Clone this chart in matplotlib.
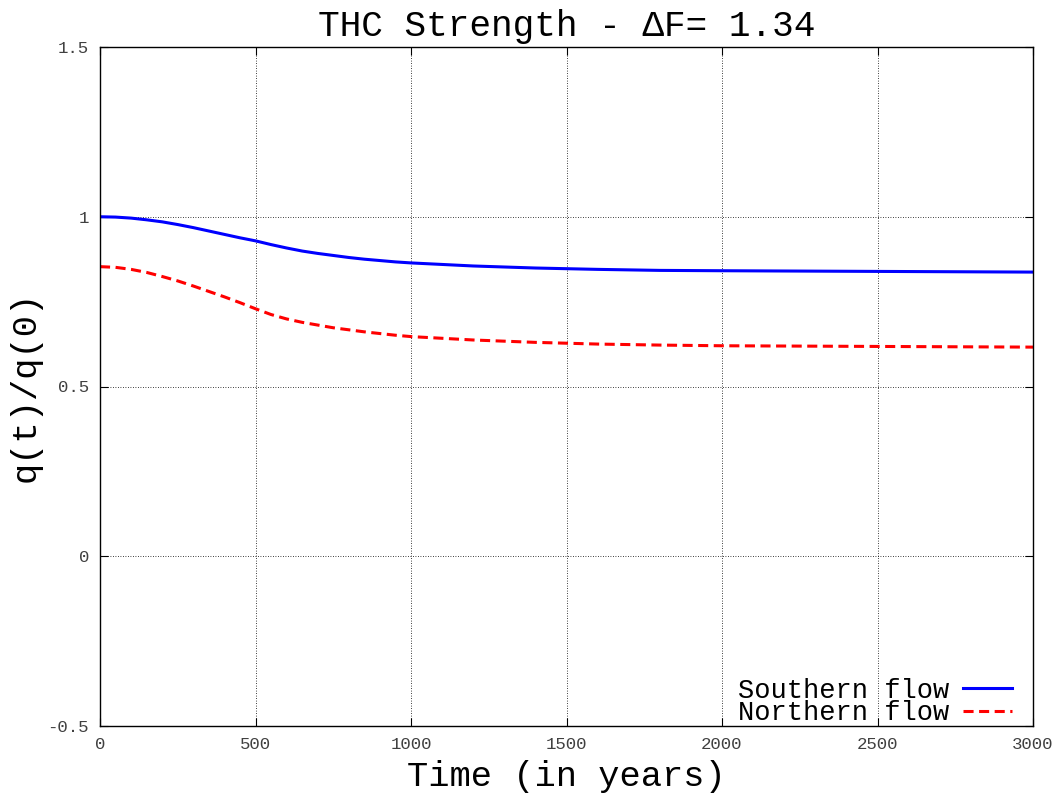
import numpy as np
import matplotlib
matplotlib.use("Agg")
import matplotlib.pyplot as plt

# time in years and normalised THC strength q(t)/q(0)
years = [0, 50, 100, 150, 200, 250, 300, 350, 400, 450, 500, 550, 600, 650, 700,
         750, 800, 850, 900, 950, 1000, 1200, 1400, 1600, 1800, 2000, 2250, 2500, 2750, 3000]
southern = [1.000, 0.999, 0.996, 0.991, 0.985, 0.977, 0.968, 0.958, 0.948, 0.938, 0.929,
            0.918, 0.908, 0.899, 0.892, 0.886, 0.880, 0.875, 0.871, 0.867, 0.864,
            0.855, 0.849, 0.845, 0.842, 0.841, 0.840, 0.839, 0.838, 0.837]
northern = [0.853, 0.851, 0.845, 0.836, 0.824, 0.811, 0.796, 0.780, 0.764, 0.747, 0.729,
            0.712, 0.699, 0.689, 0.681, 0.673, 0.667, 0.661, 0.656, 0.651, 0.647,
            0.637, 0.630, 0.625, 0.622, 0.620, 0.619, 0.618, 0.617, 0.616]

xticks = [0, 500, 1000, 1500, 2000, 2500, 3000]
yticks = [-0.5, 0, 0.5, 1, 1.5]
yticklabels = ["-0.5", "0", "0.5", "1", "1.5"]

plt.rcParams['font.family'] = ['Liberation Mono', 'DejaVu Sans Mono']

fig = plt.figure(figsize=(10.58, 7.93), dpi=100)
ax = fig.add_axes([100 / 1058, 1 - 726 / 793, 933 / 1058, 679 / 793])

ax.plot(years, southern, color='#0000ff', lw=2.2, label='Southern flow')
ax.plot(years, northern, color='#ff0000', lw=2.2, dashes=(3.3, 1.8), label='Northern flow')

ax.set_xlim(0, 3000)
ax.set_ylim(-0.5, 1.5)
ax.set_xticks(xticks)
ax.set_yticks(yticks)
ax.set_yticklabels(yticklabels)
ax.tick_params(direction='in', length=6, width=0.8, top=True, right=True,
               labelsize=12.5, labelcolor='#404040', pad=8)
ax.grid(True, color='black', linestyle=(0, (1, 2)), linewidth=0.6)
for s in ax.spines.values():
    s.set_linewidth(1.0)

ax.set_title('THC Strength - \u0394F= 1.34', fontsize=26, pad=8)
ax.set_xlabel('Time (in years)', fontsize=25.5, labelpad=6)
ax.set_ylabel('q(t)/q(0)', fontsize=25.5, labelpad=4)

ax.legend(loc='lower right', frameon=False, fontsize=19.5, markerfirst=False,
          handlelength=1.8, handletextpad=0.5, labelspacing=-0.13,
          borderaxespad=0.0, borderpad=0.0,
          bbox_to_anchor=(1 - 21 / 933, 0.0))

fig.savefig('out.png', dpi=100)
